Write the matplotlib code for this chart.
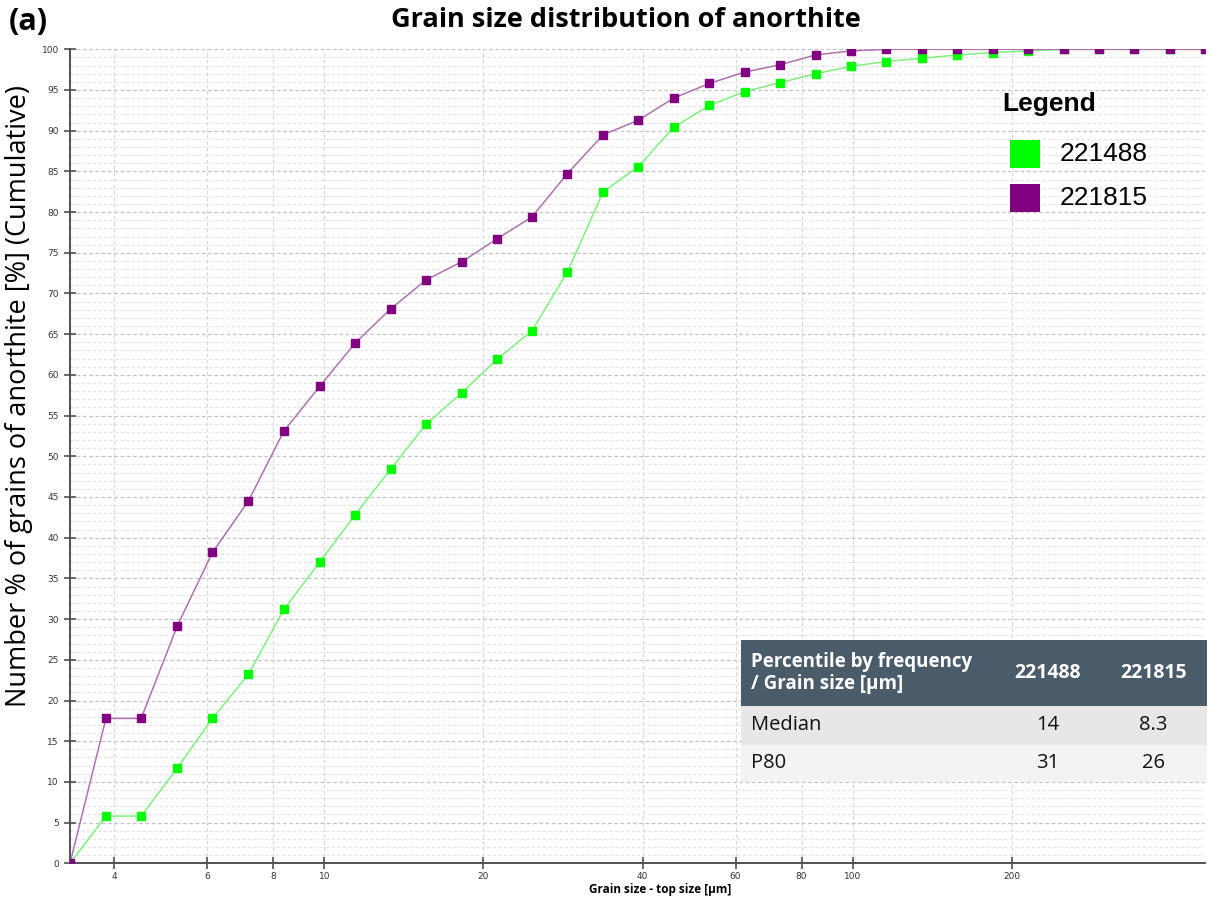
import matplotlib
matplotlib.use("Agg")
import matplotlib.pyplot as plt
from matplotlib.patches import Rectangle
from matplotlib.ticker import FixedLocator, NullLocator, FixedFormatter, MultipleLocator

# top size of each size class [µm]
size = [3.30, 3.86, 4.50, 5.27, 6.14, 7.18, 8.38, 9.80, 11.43, 13.34, 15.6,
        18.2, 21.2, 24.7, 28.8, 33.7, 39.3, 45.8, 53.5, 62.4, 72.8, 85.0,
        99.2, 115.7, 135, 157.6, 184, 214.7, 250.5, 292, 341, 398, 464]

# cumulative number % per sample
s221488 = [0, 5.8, 5.8, 11.7, 17.8, 23.2, 31.2, 37.0, 42.8, 48.4, 54.0,
           57.8, 61.9, 65.4, 72.6, 82.5, 85.6, 90.4, 93.1, 94.8, 95.9, 97.0,
           97.9, 98.5, 98.9, 99.3, 99.6, 99.8, 100, 100, 100, 100, 100]
s221815 = [0, 17.8, 17.8, 29.2, 38.2, 44.5, 53.1, 58.6, 63.9, 68.1, 71.7,
           73.9, 76.7, 79.4, 84.7, 89.5, 91.3, 94.0, 95.8, 97.2, 98.1, 99.3,
           99.8, 100, 100, 100, 100, 100, 100, 100, 100, 100, 100]

samples = ["221488", "221815"]
colors = ["#00ff00", "#800080"]
line_colors = ["#7ef07e", "#b070b0"]

xticks = [4, 6, 8, 10, 20, 40, 60, 80, 100, 200]

table_cols = ["Percentile by frequency\n/ Grain size [µm]", "221488", "221815"]
table_rows = [["Median", "14", "8.3"], ["P80", "31", "26"]]

W, H = 1211, 899
fig = plt.figure(figsize=(W / 100, H / 100), dpi=100)
ax = fig.add_axes([70 / W, 1 - 863.3 / H, (1205 - 70) / W, (863.3 - 49.3) / H])

for ys, c, lc in zip([s221488, s221815], colors, line_colors):
    ax.plot(size, ys, color=lc, lw=1.1, zorder=3)
    ax.plot(size, ys, ls="none", marker="s", ms=5.5, color=c, mec=c, zorder=4)

ax.set_xscale("log")
ax.set_xlim(size[0], size[-1])
ax.set_ylim(0, 100)
ax.xaxis.set_major_locator(FixedLocator(xticks))
ax.xaxis.set_major_formatter(FixedFormatter([str(t) for t in xticks]))
ax.xaxis.set_minor_locator(NullLocator())
ax.yaxis.set_major_locator(MultipleLocator(5))
ax.yaxis.set_minor_locator(MultipleLocator(1))

ax.grid(True, which="major", axis="y", ls=(0, (3, 2)), color="#c4c4c4", lw=0.9)
ax.grid(True, which="minor", axis="y", ls=(0, (3, 2)), color="#e4e4e4", lw=0.8)
ax.grid(True, which="major", axis="x", ls=(0, (3, 2)), color="#d8d8d8", lw=0.9)

for s in ["top", "right"]:
    ax.spines[s].set_visible(False)
for s in ["left", "bottom"]:
    ax.spines[s].set_color("#505050")
    ax.spines[s].set_linewidth(1.4)
ax.tick_params(which="major", direction="inout", length=8, width=1.2,
               color="#505050", labelsize=6.5, labelcolor="#333333", pad=4)
ax.tick_params(axis="x", which="major", pad=2)
ax.tick_params(which="minor", length=0)

fig.text(660 / W, 1 - 890 / H, "Grain size - top size [µm]", family="Open Sans",
         fontweight="bold", fontsize=8.5, ha="center", va="center")
fig.text(19 / W, 1 - 396 / H, "Number % of grains of anorthite [%] (Cumulative)",
         family="Open Sans", fontsize=19.5, rotation=90,
         ha="center", va="center")

fig.text(626 / W, 1 - 20 / H, "Grain size distribution of anorthite",
         family="Open Sans", fontweight="bold", fontsize=19.5,
         ha="center", va="center")
fig.text(9 / W, 1 - 22 / H, "(a)", family="Open Sans", fontweight="bold",
         fontsize=22, ha="left", va="center")

# overlay in pixel units for legend and percentile table
ov = fig.add_axes([0, 0, 1, 1], zorder=5)
ov.set_xlim(0, W)
ov.set_ylim(H, 0)
ov.axis("off")

ov.text(1002, 104, "Legend", family="Liberation Sans", fontweight="bold",
        fontsize=19, ha="left", va="center")
for i, (name, c) in enumerate(zip(samples, colors)):
    yc = 154 + 44 * i
    ov.add_patch(Rectangle((1010, yc - 14), 30, 28, color=c, lw=0))
    ov.text(1060, yc, name, family="Liberation Sans", fontsize=19,
            ha="left", va="center")

x0, x1, x2, x3 = 741, 985, 1100, 1207
row_y = [640, 706, 745, 782]
ov.add_patch(Rectangle((x0, row_y[0]), x3 - x0, row_y[1] - row_y[0],
                       color="#4a5b69", lw=0))
ov.add_patch(Rectangle((x0, row_y[1]), x3 - x0, row_y[2] - row_y[1],
                       color="#e7e7e7", lw=0))
ov.add_patch(Rectangle((x0, row_y[2]), x3 - x0, row_y[3] - row_y[2],
                       color="#f3f3f3", lw=0))
hy = (row_y[0] + row_y[1]) / 2
ov.text(x0 + 10, hy, table_cols[0], color="white", fontweight="bold",
        family="Open Sans", fontsize=13.5, va="center", ha="left",
        linespacing=1.1)
ov.text((x1 + x2) / 2 + 5, hy, table_cols[1], color="white",
        fontweight="bold", family="Open Sans", fontsize=14,
        va="center", ha="center")
ov.text((x2 + x3) / 2, hy, table_cols[2], color="white",
        fontweight="bold", family="Open Sans", fontsize=14,
        va="center", ha="center")
for i, row in enumerate(table_rows):
    ry = (row_y[i + 1] + row_y[i + 2]) / 2
    ov.text(x0 + 10, ry, row[0], family="Open Sans", fontsize=14.5,
            va="center", ha="left", color="#111111")
    ov.text((x1 + x2) / 2 + 5, ry, row[1], family="Open Sans", fontsize=14.5,
            va="center", ha="center", color="#111111")
    ov.text((x2 + x3) / 2, ry, row[2], family="Open Sans", fontsize=14.5,
            va="center", ha="center", color="#111111")

fig.savefig("out.png", dpi=100)
